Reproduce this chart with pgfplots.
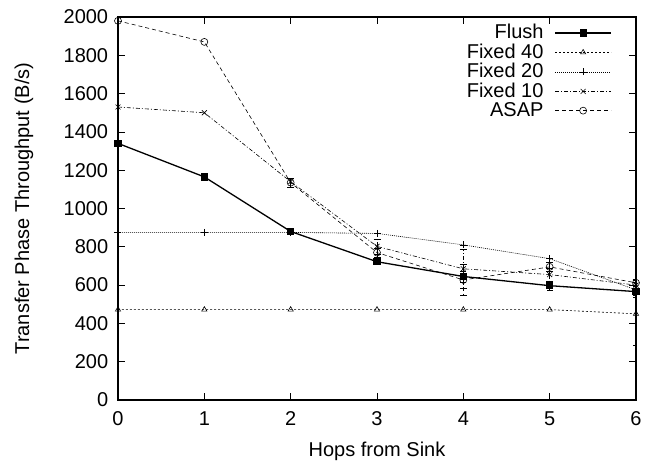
\documentclass[border=0pt]{standalone}
\usepackage{pgfplots}
\pgfplotsset{compat=1.18}
\usepackage{fontspec}
\setmainfont{Liberation Sans}
\begin{document}
\fontsize{20}{22}\selectfont
\begin{tikzpicture}
\begin{axis}[
  scale only axis,
  width=518pt, height=383pt,
  xmin=0, xmax=6, ymin=0, ymax=2000,
  xtick={0,1,2,3,4,5,6},
  ytick={0,200,400,600,800,1000,1200,1400,1600,1800,2000},
  /pgf/number format/assume math mode=true,
  /pgf/number format/1000 sep={},
  tick label style={font=\fontsize{20}{22}\selectfont},
  xticklabel style={yshift=-5pt},
  yticklabel style={xshift=-3pt},
  label style={font=\fontsize{20}{22}\selectfont},
  xlabel={Hops from Sink},
  ylabel={Transfer Phase Throughput (B/s)},
  xlabel style={at={(axis description cs:0.5,0)}, anchor=center, yshift=-51pt},
  ylabel style={at={(axis description cs:0,0.5)}, anchor=center, yshift=94pt},
  axis line style={line width=1.1pt},
  tick style={black, line width=0.7pt, major tick length=7pt},
  legend style={draw=none, fill=none, at={(1,1)}, anchor=north east, xshift=-24pt, yshift=-5pt,
    inner sep=0pt, font=\fontsize{20}{20}\selectfont, row sep=-2pt, column sep=9pt},
  legend cell align=right,
  legend plot pos=right,
  legend image code/.code={\draw[#1] (0pt,0pt) -- (28pt,0pt) -- (56pt,0pt); \path[#1] plot coordinates {(28pt,0pt)};},
]
\addplot[black, line width=1.3pt, solid, mark=square*, mark size=3pt, mark options={solid, fill=black},
  error bars/.cd, y dir=both, y explicit, error bar style={line width=0.7pt}]
  coordinates {(0,1340) (1,1165) (2,880) (3,722) (4,645) +- (0,30) (5,597) +- (0,25) (6,566) +- (0,20)};
\addlegendentry{Flush}
\addplot[black, line width=0.6pt, dash pattern=on 2pt off 2pt, mark=triangle, mark size=3pt, mark options={solid},
  error bars/.cd, y dir=both, y explicit, error bar style={line width=0.5pt, dash pattern=on 2pt off 2pt}]
  coordinates {(0,472) (1,472) (2,472) (3,472) (4,472) (5,472) (6,450) +- (0,165)};
\addlegendentry{Fixed 40}
\addplot[black, line width=0.6pt, dash pattern=on 1pt off 1pt, mark=+, mark size=3.5pt, mark options={solid},
  error bars/.cd, y dir=both, y explicit, error bar style={line width=0.5pt, dash pattern=on 1pt off 1pt}]
  coordinates {(0,875) (1,875) (2,875) (3,870) (4,810) (5,738) (6,575) +- (0,40)};
\addlegendentry{Fixed 20}
\addplot[black, line width=0.6pt, dash pattern=on 4pt off 2pt on 1pt off 2pt, mark=x, mark size=3.5pt, mark options={solid},
  error bars/.cd, y dir=both, y explicit, error bar style={line width=0.6pt}]
  coordinates {(0,1530) (1,1500) (2,1140) (3,802) +- (0,40) (4,685) +- (0,100) (5,655) +- (0,35) (6,600) +- (0,25)};
\addlegendentry{Fixed 10}
\addplot[black, line width=0.6pt, dash pattern=on 4pt off 3pt, mark=o, mark size=3.5pt, mark options={solid},
  error bars/.cd, y dir=both, y explicit, error bar style={line width=0.6pt}]
  coordinates {(0,1980) (1,1870) (2,1135) +- (0,25) (3,770) +- (0,25) (4,627) +- (0,80) (5,695) +- (0,25) (6,612) +- (0,20)};
\addlegendentry{ASAP}
\end{axis}
\pgfresetboundingbox
\path (-118pt,-68pt) rectangle (534pt,400pt);
\end{tikzpicture}
\end{document}
